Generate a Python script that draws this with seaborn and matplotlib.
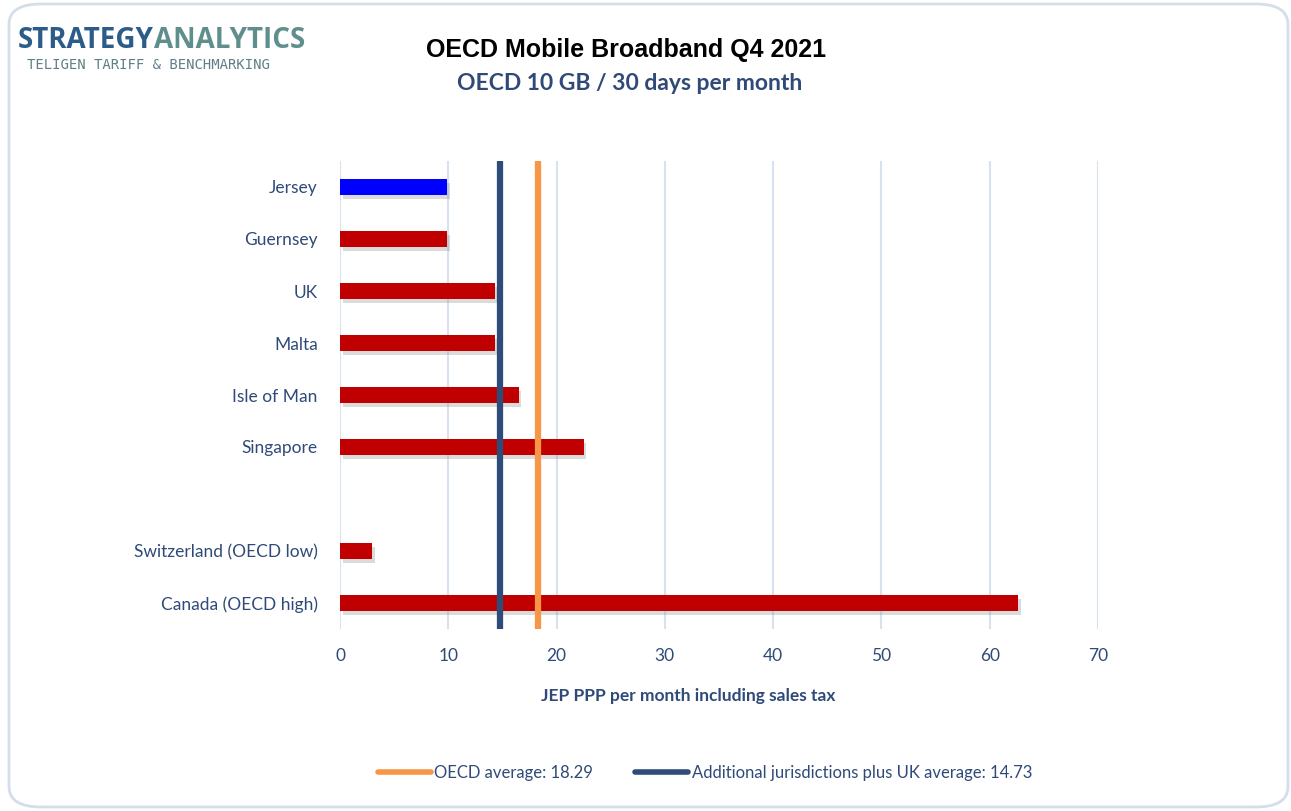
import matplotlib
matplotlib.use("Agg")
import matplotlib.pyplot as plt
import matplotlib.patheffects as pe
from matplotlib.patches import FancyBboxPatch
from matplotlib.lines import Line2D
import pandas as pd
import seaborn as sns

# data
countries = ["Jersey", "Guernsey", "UK", "Malta", "Isle of Man", "Singapore",
             "Switzerland (OECD low)", "Canada (OECD high)"]
prices = [9.9, 9.9, 14.3, 14.3, 16.5, 22.5, 3.0, 62.6]
groups = ["Jersey", "Other", "Other", "Other", "Other", "Other", "Other", "Other"]
order = ["Jersey", "Guernsey", "UK", "Malta", "Isle of Man", "Singapore", " ",
         "Switzerland (OECD low)", "Canada (OECD high)"]
oecd_avg = 18.29
juris_avg = 14.73
x_ticks = [0, 10, 20, 30, 40, 50, 60, 70]

label_col = "#2F4A78"
navy = "#2E4C7A"
orange = "#F79646"

sns.set_theme(style="white")
plt.rcParams["font.family"] = ["Lato", "DejaVu Sans"]

df = pd.DataFrame({"country": countries, "price": prices, "group": groups})

fig = plt.figure(figsize=(12.91, 8.11), dpi=100)
ax = fig.add_axes([340 / 1291, 1 - 629 / 811, 758 / 1291, 468 / 811])

sns.barplot(data=df, y="country", x="price", hue="group", order=order,
            palette={"Jersey": "#0000FF", "Other": "#C00000"},
            saturation=1, linewidth=0, width=0.31, dodge=False,
            legend=False, ax=ax, zorder=3)

# soft drop shadow like the original
for bar in ax.patches:
    bar.set_path_effects([pe.SimplePatchShadow(offset=(2, -3), shadow_rgbFace="#888888",
                                               alpha=0.3),
                          pe.Normal()])

ax.axvline(juris_avg, color=navy, lw=4.5, zorder=4)
ax.axvline(oecd_avg, color=orange, lw=4.5, zorder=4)

ax.set_xlim(0, 70)
ax.set_xticks(x_ticks)
ax.xaxis.grid(True, color="#D6E2F0", lw=1.5, zorder=0)
ax.yaxis.grid(False)
for s in ax.spines.values():
    s.set_visible(False)
ax.tick_params(axis="both", length=0, labelsize=12.5, colors=label_col)
ax.tick_params(axis="x", pad=14)
ax.tick_params(axis="y", pad=16)
ax.set_ylabel("")
ax.set_xlabel("JEP PPP per month including sales tax", fontsize=12.5,
              fontweight="bold", color=label_col)
ax.xaxis.set_label_coords(0.46, -0.125)

# titles
fig.text(0.485, 1 - 50 / 811, "OECD Mobile Broadband Q4 2021", ha="center",
         va="center", fontsize=18, fontweight="bold", color="black",
         family=["Liberation Sans", "DejaVu Sans"])
fig.text(0.488, 1 - 83 / 811, "OECD 10 GB / 30 days per month", ha="center",
         va="center", fontsize=16.5, fontweight="bold", color=label_col)

# logo
t1 = fig.text(18 / 1291, 1 - 40 / 811, "STRATEGY", ha="left", va="center",
              fontsize=20, fontweight="bold", color="#2C5C8A",
              family=["Open Sans", "DejaVu Sans"], stretch="condensed")
fig.canvas.draw()
bb = t1.get_window_extent()
fig.text(bb.x1 / 1291, 1 - 40 / 811, "ANALYTICS", ha="left", va="center",
         fontsize=20, fontweight="bold", color="#5E8F8C",
         family=["Open Sans", "DejaVu Sans"])
fig.text(27 / 1291, 1 - 65 / 811, "TELIGEN TARIFF & BENCHMARKING",
         ha="left", va="center", fontsize=10, color="#5E7F86",
         family=["DejaVu Sans Mono", "DejaVu Sans"])

# legend
handles = [Line2D([], [], color=orange, lw=4),
           Line2D([], [], color=navy, lw=4)]
fig.legend(handles, [f"OECD average: {oecd_avg}",
                     f"Additional jurisdictions plus UK average: {juris_avg}"],
           loc="center", bbox_to_anchor=(0.546, 1 - 773 / 811), ncol=2,
           frameon=False, fontsize=12, labelcolor=label_col,
           handlelength=3.2, handletextpad=0.2, columnspacing=2.5)

# rounded border
border = FancyBboxPatch((9 / 1291, 4 / 811), 1279 / 1291, 803 / 811,
                        boxstyle="round,pad=0,rounding_size=0.025",
                        transform=fig.transFigure, fill=False,
                        ec="#D3DEEA", lw=2)
fig.patches.append(border)

fig.savefig("out.png", dpi=100)
